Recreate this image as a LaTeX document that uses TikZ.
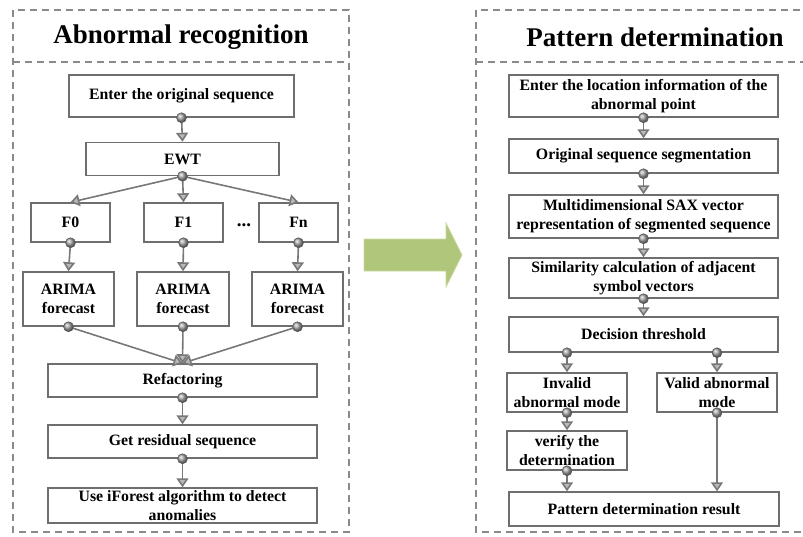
\documentclass[tikz,border=0pt]{standalone}
\usepackage{fontspec}
\setmainfont{Liberation Serif}
\usetikzlibrary{arrows.meta,calc}

\definecolor{boxgray}{HTML}{6E6E6E}
\definecolor{linegray}{HTML}{787878}
\definecolor{panelgray}{HTML}{8A8A8A}
\definecolor{arrowgreen}{HTML}{B0C67A}
\definecolor{arrowedge}{HTML}{C9D9A2}

\tikzset{
  x=1pt, y=-1pt,
  panel/.style={draw=panelgray, line width=1.5pt, dash pattern=on 7pt off 5pt},
  paneltitle/.style={font=\fontsize{27}{32}\selectfont\bfseries, inner sep=0pt},
  stepbox/.style={draw=boxgray, line width=1.5pt, fill=white, rectangle,
    inner sep=1pt, align=center, font=\fontsize{15.8}{18.5}\selectfont\bfseries},
  conn/.style={draw=linegray, line width=1.6pt,
    -{Triangle[width=12pt,length=9pt,fill=gray!55]}},
  knob/.style={shading=ball, ball color=gray!70, draw=gray!70!black, line width=0.5pt},
}

\begin{document}
\begin{tikzpicture}
\useasboundingbox (0,0) rectangle (803,536);
\clip (0,0) rectangle (803,536);

% ---------- panel frames ----------
\draw[panel] (13,10) rectangle (349,532);
\draw[panel] (13,62) -- (349,62);
\draw[panel] (476,10) rectangle (812,532);
\draw[panel] (476,62) -- (812,62);
\node[paneltitle] (tl) at (181,37) {Abnormal recognition};
\node[paneltitle] (tr) at (655,37) {Pattern determination};

% ---------- abnormal recognition ----------
\node[stepbox, minimum width=225, minimum height=42] (in) at (181.5,96) {Enter the original sequence};
\node[stepbox, minimum width=193, minimum height=33] (ewt) at (182.5,159) {EWT};
\node[stepbox, minimum width=79, minimum height=39] (f0) at (70.5,222.5) {F0};
\node[stepbox, minimum width=79, minimum height=39] (f1) at (183.5,222.5) {F1};
\node[stepbox, minimum width=79, minimum height=39] (fn) at (298.5,222.5) {Fn};
\node[font=\fontsize{19}{20}\selectfont\bfseries, inner sep=0pt, anchor=base] (dots) at (244,226) {...};
\node[stepbox, minimum width=91, minimum height=54] (a0) at (68.5,299) {ARIMA\\forecast};
\node[stepbox, minimum width=92, minimum height=54] (a1) at (183,299) {ARIMA\\forecast};
\node[stepbox, minimum width=91, minimum height=54] (a2) at (297.5,299) {ARIMA\\forecast};
\node[stepbox, minimum width=269, minimum height=33] (ref) at (182.5,380.5) {Refactoring};
\node[stepbox, minimum width=269, minimum height=33] (res) at (182.5,441.5) {Get residual sequence};
\node[stepbox, minimum width=269, minimum height=35] (ifo) at (182.5,505.5) {Use iForest algorithm to detect\\anomalies};

\draw[conn] (in.south) -- (ewt.north);
\draw[conn] (ewt.south) -- (f0.north);
\draw[conn] (ewt.south) -- (f1.north);
\draw[conn] (ewt.south) -- (fn.north);
\draw[conn] (f0.south) -- (a0.north);
\draw[conn] (f1.south) -- (a1.north);
\draw[conn] (fn.south) -- (a2.north);
\draw[conn] (a0.south) -- (ref.north);
\draw[conn] (a1.south) -- (ref.north);
\draw[conn] (a2.south) -- (ref.north);
\draw[conn] (ref.south) -- (res.north);
\draw[conn] (res.south) -- (ifo.north);

\foreach \n in {in,ewt,f0,f1,fn,a0,a1,a2,ref,res}
  \path[knob] (\n.south) circle (5pt);

% ---------- transition arrow ----------
\draw[fill=arrowgreen, draw=arrowedge, line width=0.8pt]
  (364,239) -- (446,239) -- (446,223) -- (462,255) -- (446,287) -- (446,271) -- (364,271) -- cycle;

% ---------- pattern determination ----------
\node[stepbox, minimum width=269, minimum height=42] (r1) at (643.5,96) {Enter the location information of the\\abnormal point};
\node[stepbox, minimum width=269, minimum height=34] (r2) at (643.5,156) {Original sequence segmentation};
\node[stepbox, minimum width=269, minimum height=43] (r3) at (643.5,216.5) {Multidimensional SAX vector\\representation of segmented sequence};
\node[stepbox, minimum width=269, minimum height=40] (r4) at (643.5,278) {Similarity calculation of adjacent\\symbol vectors};
\node[stepbox, minimum width=269, minimum height=35] (r5) at (643.5,334.5) {Decision threshold};
\node[stepbox, minimum width=120, minimum height=39] (inv) at (567,392.5) {Invalid\\abnormal mode};
\node[stepbox, minimum width=120, minimum height=39] (val) at (717,392.5) {Valid abnormal\\mode};
\node[stepbox, minimum width=120, minimum height=39] (ver) at (567,450.5) {verify the\\determination};
\node[stepbox, minimum width=270, minimum height=34] (out) at (644,509) {Pattern determination result};

\coordinate (dL) at (r5.south -| inv.north);
\coordinate (dR) at (r5.south -| val.north);

\draw[conn] (r1.south) -- (r2.north);
\draw[conn] (r2.south) -- (r3.north);
\draw[conn] (r3.south) -- (r4.north);
\draw[conn] (r4.south) -- (r5.north);
\draw[conn] (dL) -- (inv.north);
\draw[conn] (dR) -- (val.north);
\draw[conn] (inv.south) -- (ver.north);
\draw[conn] (ver.south) -- (ver.south |- out.north);
\draw[conn] (val.south) -- (val.south |- out.north);

\foreach \n in {r1.south,r2.south,r3.south,r4.south,dL,dR,inv.south,ver.south,val.south}
  \path[knob] (\n) circle (5pt);

\end{tikzpicture}
\end{document}
